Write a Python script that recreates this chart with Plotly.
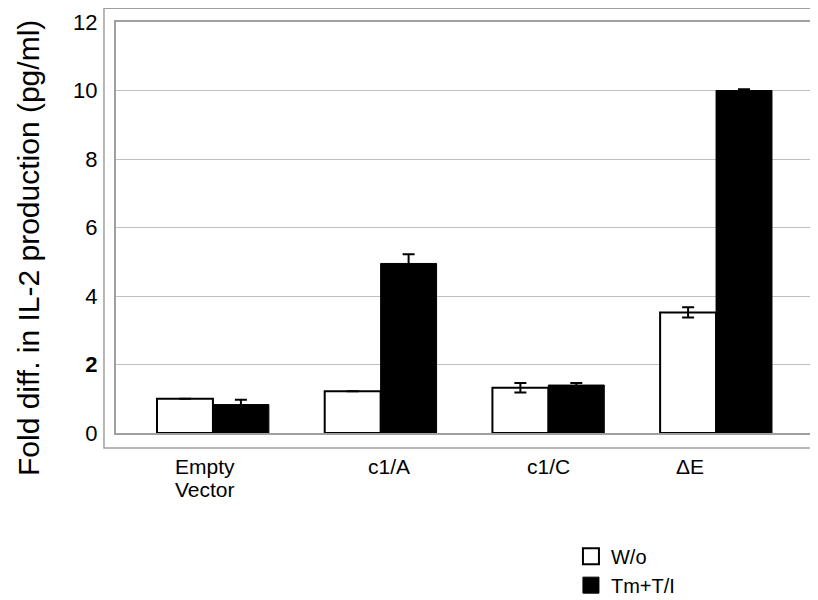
import plotly.graph_objects as go

# ---- data ----
categories = ["Empty Vector", "c1/A", "c1/C", "ΔE"]
wo_values = [1.0, 1.22, 1.32, 3.52]
wo_errors = [0.0, 0.0, 0.14, 0.15]
tm_values = [0.83, 4.95, 1.40, 10.0]
tm_errors = [0.14, 0.27, 0.06, 0.04]
series_names = ["W/o", "Tm+T/I"]
y_tick_vals = [0, 2, 4, 6, 8, 10, 12]
y_tick_text = ["0", "<b>2</b>", "4", "6", "8", "10", "12"]
y_title = "Fold diff. in IL-2 production (pg/ml)"

FONT = "Liberation Sans, Arial, sans-serif"
x_idx = list(range(len(categories)))

fig = go.Figure()
fig.add_trace(go.Bar(
    x=x_idx, y=wo_values, name=series_names[0], showlegend=False,
    marker=dict(color="white", line=dict(color="black", width=2)),
    error_y=dict(type="data", array=wo_errors, color="black", thickness=2, width=6),
))
fig.add_trace(go.Bar(
    x=x_idx, y=tm_values, name=series_names[1], showlegend=False,
    marker=dict(color="black", line=dict(color="black", width=1)),
    error_y=dict(type="data", array=tm_errors, color="black", thickness=2, width=6),
))
# legend entries
fig.add_trace(go.Scatter(
    x=[None], y=[None], mode="markers", name=series_names[0],
    marker=dict(symbol="square", size=16, color="white", line=dict(color="black", width=2)),
))
fig.add_trace(go.Scatter(
    x=[None], y=[None], mode="markers", name=series_names[1],
    marker=dict(symbol="square", size=16, color="black", line=dict(color="black", width=1)),
))

# category labels (split into lines, placed under each group)
label_shift = [-8, 8, 0, -26]
line_gap = 23
for i, cat in enumerate(categories):
    lines = cat.split(" ") if cat == "Empty Vector" else [cat]
    for j, line in enumerate(lines):
        fig.add_annotation(
            x=i, y=0, xref="x", yref="paper", xanchor="center", yanchor="top",
            yshift=-20 - j * line_gap,
            xshift=label_shift[i], text=line, showarrow=False,
            font=dict(family=FONT, size=21, color="black"),
        )

# y axis title
fig.add_annotation(
    x=-0.1259, y=0.45, xref="paper", yref="paper", xanchor="center", yanchor="middle",
    text=y_title, textangle=-90,
    showarrow=False, font=dict(family=FONT, size=30, color="black"),
)

# outer frame
fig.add_shape(type="rect", xref="paper", yref="paper", x0=-0.0172, x1=1.02, y0=-0.0365, y1=1.0335,
              line=dict(color="#a0a0a0", width=1.5), layer="below")

fig.update_layout(
    width=810, height=592,
    margin=dict(l=108, r=3, t=14, b=167, autoexpand=False),
    plot_bgcolor="white", paper_bgcolor="white",
    barmode="group", bargap=0.333, bargroupgap=0,
    font=dict(family=FONT, color="black"),
    showlegend=True,
    legend=dict(x=0.695, y=0.107, xref="container", yref="container",
                xanchor="left", yanchor="top",
                font=dict(family=FONT, size=20, color="black"),
                bgcolor="rgba(0,0,0,0)", itemwidth=30, tracegroupgap=0),
    xaxis=dict(range=[-0.578, 3.59], showticklabels=False, showgrid=False, automargin=False,
               showline=True, linecolor="#a0a0a0", linewidth=2, mirror=True, zeroline=False,
               fixedrange=True),
    yaxis=dict(range=[0, 12], tickvals=y_tick_vals, ticktext=y_tick_text, automargin=False,
               tickfont=dict(family=FONT, size=22, color="black"),
               ticks="outside", ticklen=12, tickcolor="rgba(0,0,0,0)",
               showgrid=True, gridcolor="#c0c0c0", gridwidth=1,
               showline=True, linecolor="#a0a0a0", linewidth=2, mirror=True,
               zeroline=False, fixedrange=True),
)

fig.write_html("out.html")
